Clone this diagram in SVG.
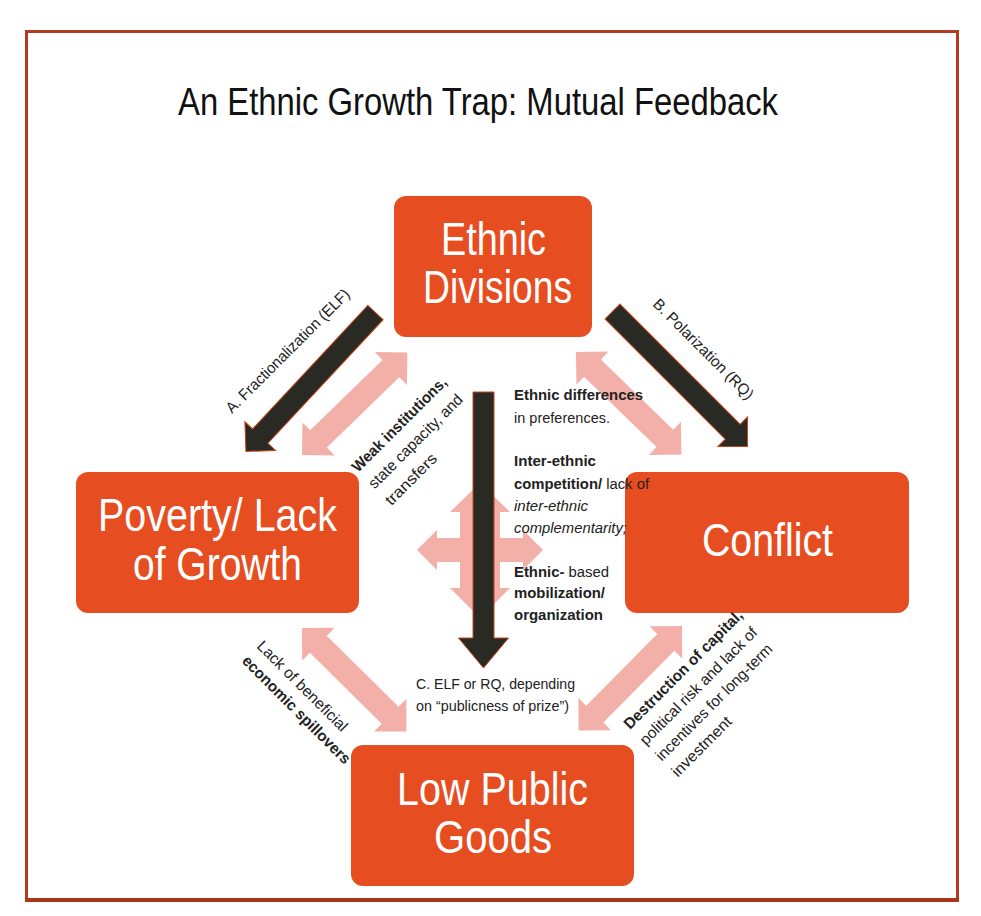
<svg xmlns="http://www.w3.org/2000/svg" width="981" height="916" viewBox="0 0 981 916">
<style>
text{font-family:"Liberation Sans",Arial,sans-serif;fill:#222;}
.node rect{fill:#e64e22;}
.nt{fill:#fff;font-size:46px;}
.pink{fill:#f3b0a8;}
.blk{fill:#2a2a24;stroke:#c4441c;stroke-width:1;}
.lbl{font-size:15.5px;}
.b{font-weight:bold;}
.i{font-style:italic;}
</style>
<defs>
<polygon id="pd" points="0,0 23,-23 23,-12 124,-12 124,-23 147,0 124,23 124,12 23,12 23,23"/>
</defs>
<rect x="26.5" y="31.5" width="931" height="868" fill="#fff" stroke="#b33b1f" stroke-width="3"/>
<line x1="25" y1="900" x2="959" y2="900" stroke="#a8361c" stroke-width="4"/>
<text x="178" y="115" font-size="38" textLength="600" lengthAdjust="spacingAndGlyphs" style="fill:#111">An Ethnic Growth Trap: Mutual Feedback</text>

<g id="connectors">
<use href="#pd" class="pink" transform="translate(302,455) rotate(-44.2)"/>
<use href="#pd" class="pink" transform="translate(576,352) rotate(44.2)"/>
<use href="#pd" class="pink" transform="translate(302,628) rotate(44.7)"/>
<use href="#pd" class="pink" transform="translate(682,626) rotate(134.7)"/>
<polygon class="pink" points="480,483 510,512 500,512 500,588 510,588 480,618 450,588 460,588 460,512 450,512"/>
<polygon class="pink" points="417,550 437,530 437,538 523,538 523,530 543,550 523,570 523,562 437,562 437,570"/>
<polygon class="blk" transform="translate(375.5,312.5) rotate(133)" points="0,-10.5 169,-10.5 169,-21 190,0 169,21 169,10.5 0,10.5"/>
<polygon class="blk" transform="translate(612.5,311.5) rotate(45)" points="0,-10.5 170,-10.5 170,-21 191,0 170,21 170,10.5 0,10.5"/>
<polygon class="blk" transform="translate(483.5,392) rotate(90)" points="0,-10.5 246,-10.5 246,-25 276,0 246,25 246,10.5 0,10.5"/>
</g>

<g id="ethnic-divisions" class="node">
<rect x="394" y="196" width="198" height="141" rx="12"/>
<text class="nt" x="441" y="255" textLength="105" lengthAdjust="spacingAndGlyphs">Ethnic</text>
<text class="nt" x="423" y="303" textLength="149" lengthAdjust="spacingAndGlyphs">Divisions</text>
</g>
<g id="poverty" class="node">
<rect x="76" y="472" width="283" height="141" rx="12"/>
<text class="nt" x="98" y="531" textLength="239" lengthAdjust="spacingAndGlyphs">Poverty/ Lack</text>
<text class="nt" x="133" y="580" textLength="169" lengthAdjust="spacingAndGlyphs">of Growth</text>
</g>
<g id="conflict" class="node">
<rect x="625" y="472" width="284" height="141" rx="12"/>
<text class="nt" x="702" y="556" textLength="131" lengthAdjust="spacingAndGlyphs">Conflict</text>
</g>
<g id="low-public-goods" class="node">
<rect x="351" y="745" width="283" height="141" rx="12"/>
<text class="nt" x="397" y="805" textLength="191" lengthAdjust="spacingAndGlyphs">Low Public</text>
<text class="nt" x="434" y="853" textLength="118" lengthAdjust="spacingAndGlyphs">Goods</text>
</g>

<g id="labels" class="lbl">
<text transform="translate(232,414) rotate(-45)" textLength="168" lengthAdjust="spacingAndGlyphs">A. Fractionalization (ELF)</text>
<text transform="translate(652,305) rotate(45)" textLength="135" lengthAdjust="spacingAndGlyphs">B. Polarization (RQ)</text>
<g transform="translate(358,473) rotate(-45)">
<text x="0" y="0" class="b" textLength="127" lengthAdjust="spacingAndGlyphs">Weak institutions,</text>
<text x="0" y="23.5" textLength="126" lengthAdjust="spacingAndGlyphs">state capacity, and</text>
<text x="0" y="47" textLength="66" lengthAdjust="spacingAndGlyphs">transfers</text>
</g>
<text x="514" y="400" class="b" textLength="129" lengthAdjust="spacingAndGlyphs">Ethnic differences</text>
<text x="514" y="423" textLength="96" lengthAdjust="spacingAndGlyphs">in preferences.</text>
<text x="514" y="466" class="b" textLength="82" lengthAdjust="spacingAndGlyphs">Inter-ethnic</text>
<text x="514" y="489" textLength="135" lengthAdjust="spacingAndGlyphs"><tspan class="b">competition/</tspan> lack of</text>
<text x="514" y="511" class="i" textLength="74" lengthAdjust="spacingAndGlyphs">inter-ethnic</text>
<text x="514" y="533" class="i" textLength="113" lengthAdjust="spacingAndGlyphs">complementarity;</text>
<text x="514" y="577" textLength="95" lengthAdjust="spacingAndGlyphs"><tspan class="b">Ethnic-</tspan> based</text>
<text x="514" y="598" class="b" textLength="91" lengthAdjust="spacingAndGlyphs">mobilization/</text>
<text x="514" y="620" class="b" textLength="89" lengthAdjust="spacingAndGlyphs">organization</text>
<text x="416" y="689" textLength="159" lengthAdjust="spacingAndGlyphs">C. ELF or RQ, depending</text>
<text x="416" y="711" textLength="153" lengthAdjust="spacingAndGlyphs">on “publicness of prize”)</text>
<g transform="translate(256,647) rotate(45)">
<text x="0" y="0" textLength="121" lengthAdjust="spacingAndGlyphs">Lack of beneficial</text>
<text x="0" y="21" class="b" textLength="146" lengthAdjust="spacingAndGlyphs">economic spillovers</text>
</g>
<g transform="translate(630,730) rotate(-45)">
<text x="0" y="0" class="b" textLength="161" lengthAdjust="spacingAndGlyphs">Destruction of capital,</text>
<text x="0" y="22.5" textLength="159" lengthAdjust="spacingAndGlyphs">political risk and lack of</text>
<text x="0" y="45" textLength="158" lengthAdjust="spacingAndGlyphs">incentives for long-term</text>
<text x="0" y="67.5" textLength="78" lengthAdjust="spacingAndGlyphs">investment</text>
</g>
</g>
</svg>
